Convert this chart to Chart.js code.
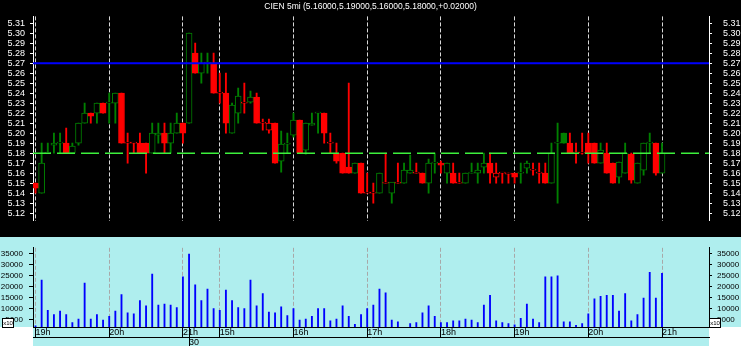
<!DOCTYPE html>
<html>
<head>
<meta charset="utf-8">
<script src="https://cdn.jsdelivr.net/npm/chart.js@4.4.0/dist/chart.umd.min.js"></script>
<style>
  body { margin: 0; width: 741px; height: 346px; overflow: hidden; background: #fff; position: relative; font-family: 'Liberation Sans', Arial, sans-serif; }
  #priceChart { position: absolute; left: 0; top: 0; }
  #volumeChart { position: absolute; left: 0; top: 237px; }
  #title { position: absolute; left: 0; top: 1px; width: 741px; text-align: center; color: #fff; font-size: 8.5px; line-height: 11px; white-space: pre; }
  .x10 { position: absolute; top: 318px; width: 10px; height: 8px; background: #fff; border: 1px solid #000; font-size: 6px; line-height: 8px; text-align: center; color: #000; }
</style>
</head>
<body>
<canvas id="priceChart" width="741" height="237"></canvas>
<canvas id="volumeChart" width="741" height="109"></canvas>
<div id="title"></div>
<div class="x10" style="left:2px">x10</div>
<div class="x10" style="left:709px">x10</div>
<script>
Chart.defaults.font.family = "'Liberation Sans', Arial, sans-serif";
Chart.defaults.animation = false;

// 5 minute candles, CIEN
const opens = [
    5.150, 5.140, 5.180, 5.188, 5.190, 5.190, 5.180, 5.190, 5.210, 5.220,
    5.220, 5.230, 5.230, 5.230, 5.240, 5.190, 5.190, 5.190, 5.190, 5.180,
    5.198, 5.200, 5.190, 5.200, 5.210, 5.210, 5.280, 5.260, 5.270, 5.270,
    5.240, 5.240, 5.200, 5.220, 5.230, 5.231, 5.236, 5.210, 5.203, 5.210,
    5.172, 5.189, 5.198, 5.213, 5.183, 5.208, 5.220, 5.220, 5.190, 5.180,
    5.180, 5.166, 5.160, 5.170, 5.140, 5.140, 5.140, 5.150, 5.140, 5.150,
    5.150, 5.160, 5.160, 5.160, 5.150, 5.170, 5.170, 5.160, 5.160, 5.150,
    5.150, 5.160, 5.160, 5.166, 5.170, 5.156, 5.160, 5.159, 5.160, 5.160,
    5.165, 5.163, 5.160, 5.160, 5.150, 5.190, 5.200, 5.190, 5.180, 5.180,
    5.190, 5.190, 5.170, 5.180, 5.170, 5.156, 5.160, 5.179, 5.150, 5.163,
    5.190, 5.190, 5.160
];
const highs = [
    5.150, 5.190, 5.190, 5.200, 5.200, 5.205, 5.190, 5.210, 5.230, 5.220,
    5.230, 5.230, 5.240, 5.240, 5.240, 5.200, 5.190, 5.200, 5.190, 5.210,
    5.210, 5.210, 5.210, 5.220, 5.210, 5.300, 5.290, 5.280, 5.280, 5.280,
    5.260, 5.260, 5.230, 5.245, 5.250, 5.242, 5.240, 5.214, 5.214, 5.210,
    5.202, 5.200, 5.220, 5.213, 5.210, 5.220, 5.220, 5.220, 5.200, 5.190,
    5.180, 5.250, 5.170, 5.170, 5.160, 5.150, 5.160, 5.180, 5.150, 5.170,
    5.170, 5.178, 5.170, 5.160, 5.174, 5.180, 5.172, 5.170, 5.170, 5.160,
    5.160, 5.170, 5.170, 5.180, 5.180, 5.170, 5.160, 5.160, 5.160, 5.170,
    5.172, 5.170, 5.170, 5.170, 5.190, 5.210, 5.200, 5.200, 5.190, 5.200,
    5.200, 5.190, 5.190, 5.190, 5.170, 5.171, 5.190, 5.180, 5.170, 5.190,
    5.200, 5.190, 5.190
];
const lows = [
    5.140, 5.140, 5.180, 5.180, 5.180, 5.180, 5.180, 5.188, 5.210, 5.210,
    5.210, 5.220, 5.210, 5.210, 5.190, 5.170, 5.180, 5.180, 5.160, 5.180,
    5.190, 5.180, 5.180, 5.200, 5.190, 5.210, 5.260, 5.250, 5.260, 5.240,
    5.230, 5.200, 5.200, 5.210, 5.220, 5.230, 5.210, 5.203, 5.200, 5.170,
    5.161, 5.180, 5.196, 5.180, 5.179, 5.208, 5.200, 5.190, 5.180, 5.170,
    5.160, 5.160, 5.160, 5.140, 5.140, 5.130, 5.140, 5.150, 5.130, 5.150,
    5.150, 5.160, 5.160, 5.150, 5.140, 5.160, 5.160, 5.150, 5.150, 5.150,
    5.150, 5.160, 5.150, 5.160, 5.150, 5.150, 5.150, 5.150, 5.150, 5.150,
    5.160, 5.158, 5.150, 5.150, 5.150, 5.130, 5.190, 5.180, 5.170, 5.179,
    5.170, 5.170, 5.170, 5.160, 5.150, 5.150, 5.160, 5.150, 5.150, 5.158,
    5.180, 5.158, 5.160
];
const closes = [
    5.145, 5.170, 5.180, 5.190, 5.190, 5.180, 5.187, 5.210, 5.220, 5.217,
    5.230, 5.220, 5.230, 5.240, 5.190, 5.190, 5.190, 5.180, 5.180, 5.200,
    5.200, 5.190, 5.200, 5.210, 5.200, 5.300, 5.260, 5.270, 5.270, 5.240,
    5.240, 5.210, 5.228, 5.237, 5.230, 5.236, 5.210, 5.210, 5.210, 5.170,
    5.189, 5.190, 5.213, 5.180, 5.210, 5.210, 5.220, 5.200, 5.190, 5.172,
    5.160, 5.160, 5.170, 5.140, 5.140, 5.140, 5.160, 5.150, 5.151, 5.150,
    5.163, 5.163, 5.160, 5.150, 5.170, 5.170, 5.168, 5.170, 5.150, 5.150,
    5.160, 5.160, 5.163, 5.170, 5.160, 5.160, 5.160, 5.159, 5.156, 5.160,
    5.170, 5.163, 5.160, 5.150, 5.180, 5.190, 5.190, 5.180, 5.180, 5.180,
    5.180, 5.170, 5.183, 5.160, 5.150, 5.171, 5.180, 5.153, 5.170, 5.190,
    5.190, 5.160, 5.180
];
const volumes = [
     2000, 23000,  9150,  7150,  8750,  7150,  3500,  5100, 21650,  5100,
     7150,  4700,  6350,  8750, 16400,  7950,  7550, 13600, 11150, 25700,
    11550, 12000, 11550, 10350, 24450, 34950, 20850, 13600, 18850,  9950,
     9150, 18450, 13600, 10350,  9950, 22950, 11150, 16800,  8350,  7950,
    10750,  6750,  9950,  4700,  5100,  6350,  9950,  9950,  4300,  5100,
    11150,  6350,  2700,  7150,  9950, 11550, 18850, 17200,  4700,  3900,
     1200,  3100,  3500,  7950, 11150,  6350,  3500,  3500,  4300,  4300,
     5100,  4700,  3500, 11550, 16000,  4300,  3500,  3100,  2500,  5500,
    12000,  5100,  3500, 24450, 24450, 24900,  3900,  3900,  2300,  3100,
     7550, 14400, 15600, 16000, 16000,  8750, 16800,  4300,  7150, 14800,
    26500, 14800, 26100
];

// hour separators (candle index) and their labels
const hourMarks = [0, 12, 24, 30, 42, 54, 66, 78, 90, 102];
const hourLabels = ['19h', '20h', '21h', '15h', '16h', '17h', '18h', '19h', '20h', '21h'];
const dayMarks = [25];
const dayLabels = ['30'];
const volumeTickValues = [5000, 10000, 15000, 20000, 25000, 30000, 35000];

const refLevel = 5.27;
const symbol = 'CIEN 5mi';

const X_MIN = -0.407, X_MAX = 109.65;
const PRICE_MIN = 5.1125, PRICE_MAX = 5.3168;
const VOL_MIN = 1500, VOL_MAX = 37800;

const GREEN = '#008000';
const RED = '#ff0000';

// candle colour: versus previous close, hollow when close > open
const candleColors = [];
closes.forEach(function(c, i) {
    const prev = i > 0 ? closes[i - 1] : opens[0];
    let col;
    if (c > prev) col = GREEN;
    else if (c < prev) col = RED;
    else col = i > 0 ? candleColors[i - 1] : RED;
    candleColors.push(col);
});
const bodyFills = closes.map(function(c, i) {
    return c < opens[i] ? candleColors[i] : '#000';
});

const last = closes.length - 1;
const change = closes[last] - closes[last - 1];
document.getElementById('title').textContent = symbol + ' (' +
    [opens[last], highs[last], lows[last], closes[last]].map(function(v) { return v.toFixed(5); }).join(',') +
    ',' + (change >= 0 ? '+' : '') + change.toFixed(5) + ')';

const paneBackground = {
    id: 'paneBackground',
    beforeDraw: function(chart, args, opts) {
        const ctx = chart.ctx, area = chart.chartArea;
        ctx.save();
        ctx.fillStyle = opts.color;
        if (opts.full) {
            ctx.fillRect(0, 0, chart.width, chart.height);
        } else {
            ctx.fillRect(0, 0, chart.width, area.bottom);
            ctx.fillRect(area.left, area.bottom, area.right - area.left, chart.height - area.bottom);
        }
        ctx.restore();
    }
};

function setTicks(values) {
    return function(axis) {
        axis.ticks = values.map(function(v) { return { value: v }; });
    };
}

new Chart(document.getElementById('priceChart'), {
    type: 'bar',
    data: {
        datasets: [
            {
                type: 'line',
                data: [{ x: X_MIN, y: refLevel }, { x: X_MAX, y: refLevel }],
                borderColor: '#0000ff',
                borderWidth: 2,
                pointRadius: 0,
                order: 0
            },
            {
                type: 'line',
                data: [{ x: X_MIN, y: closes[last] }, { x: X_MAX, y: closes[last] }],
                borderColor: '#3cf03c',
                borderWidth: 1.5,
                borderDash: [18, 6],
                pointRadius: 0,
                order: 0
            },
            {
                data: opens.map(function(o, i) { return { x: i, y: [o, closes[i]] }; }),
                backgroundColor: bodyFills,
                borderColor: candleColors,
                borderWidth: 1,
                borderSkipped: false,
                barThickness: 6,
                minBarLength: 1,
                grouped: false,
                order: 1
            },
            {
                data: lows.map(function(l, i) { return { x: i, y: [l, highs[i]] }; }),
                backgroundColor: candleColors,
                barThickness: 1.2,
                grouped: false,
                order: 2
            }
        ]
    },
    options: {
        responsive: false,
        animation: false,
        layout: { padding: 0 },
        plugins: {
            legend: { display: false },
            tooltip: { enabled: false },
            paneBackground: { color: '#000', full: true }
        },
        scales: {
            x: {
                type: 'linear',
                min: X_MIN,
                max: X_MAX,
                offset: false,
                afterBuildTicks: setTicks(hourMarks),
                afterFit: function(a) { a.height = 0; },
                grid: { offset: false, color: '#d8d8d8', lineWidth: 1, drawTicks: false },
                border: { display: false, dash: [4, 2] },
                ticks: { display: false }
            },
            y: {
                position: 'left',
                min: PRICE_MIN,
                max: PRICE_MAX,
                afterFit: function(a) { a.width = 33; },
                grid: { drawOnChartArea: false, color: '#fff', tickLength: 3 },
                border: { color: '#fff' },
                ticks: {
                    color: '#fff', stepSize: 0.01, includeBounds: false, autoSkip: false,
                    padding: 5, font: { size: 9 },
                    callback: function(v) { return v.toFixed(2); }
                }
            },
            yRight: {
                position: 'right',
                min: PRICE_MIN,
                max: PRICE_MAX,
                afterFit: function(a) { a.width = 32; },
                grid: { drawOnChartArea: false, color: '#fff', tickLength: 3 },
                border: { color: '#fff' },
                ticks: {
                    color: '#fff', stepSize: 0.01, includeBounds: false, autoSkip: false,
                    padding: 11, font: { size: 9 },
                    callback: function(v) { return v.toFixed(2); }
                }
            }
        }
    },
    plugins: [paneBackground]
});

function volumeTicks(padding) {
    return {
        color: '#000', autoSkip: false, font: { size: 8 }, padding: padding,
        callback: function(v) { return String(v); }
    };
}

new Chart(document.getElementById('volumeChart'), {
    type: 'bar',
    data: {
        datasets: [{
            data: volumes.map(function(v, i) { return { x: i, y: v }; }),
            backgroundColor: '#0000ff',
            barThickness: 1.2
        }]
    },
    options: {
        responsive: false,
        animation: false,
        layout: { padding: 0 },
        plugins: {
            legend: { display: false },
            tooltip: { enabled: false },
            paneBackground: { color: '#afeeee', full: false }
        },
        scales: {
            x: {
                type: 'linear',
                position: 'bottom',
                min: X_MIN,
                max: X_MAX,
                offset: false,
                afterBuildTicks: setTicks(hourMarks.concat(dayMarks)),
                afterFit: function(a) { a.height = 10; },
                grid: {
                    offset: false,
                    color: function(c) { return c.tick && dayMarks.indexOf(c.tick.value) >= 0 ? 'rgba(0,0,0,0)' : '#a8a8a8'; },
                    tickColor: '#000',
                    tickLength: 10,
                    tickBorderDash: []
                },
                border: { display: true, color: '#000', dash: [4, 2] },
                ticks: {
                    color: '#000', font: { size: 9 }, align: 'start', padding: -10,
                    autoSkip: false, maxRotation: 0,
                    callback: function(v) {
                        const i = hourMarks.indexOf(v);
                        return i < 0 ? '' : hourLabels[i];
                    }
                }
            },
            x2: {
                type: 'linear',
                position: 'bottom',
                min: X_MIN,
                max: X_MAX,
                offset: false,
                afterBuildTicks: setTicks(dayMarks),
                afterFit: function(a) { a.height = 9; },
                grid: { offset: false, drawOnChartArea: false, tickColor: '#000', tickLength: 9 },
                border: { display: true, color: '#000' },
                ticks: {
                    color: '#000', font: { size: 9 }, align: 'start', padding: -9,
                    autoSkip: false, maxRotation: 0,
                    callback: function(v) { return dayLabels[dayMarks.indexOf(v)]; }
                }
            },
            y: {
                position: 'left',
                min: VOL_MIN,
                max: VOL_MAX,
                afterBuildTicks: setTicks(volumeTickValues),
                afterFit: function(a) { a.width = 33; },
                grid: { drawOnChartArea: false, color: '#000', tickLength: 4 },
                border: { color: '#000' },
                ticks: volumeTicks(6)
            },
            yRight: {
                position: 'right',
                min: VOL_MIN,
                max: VOL_MAX,
                afterBuildTicks: setTicks(volumeTickValues),
                afterFit: function(a) { a.width = 32; },
                grid: { drawOnChartArea: false, color: '#000', tickLength: 3 },
                border: { color: '#000' },
                ticks: volumeTicks(5)
            }
        }
    },
    plugins: [paneBackground]
});
</script>
</body>
</html>
